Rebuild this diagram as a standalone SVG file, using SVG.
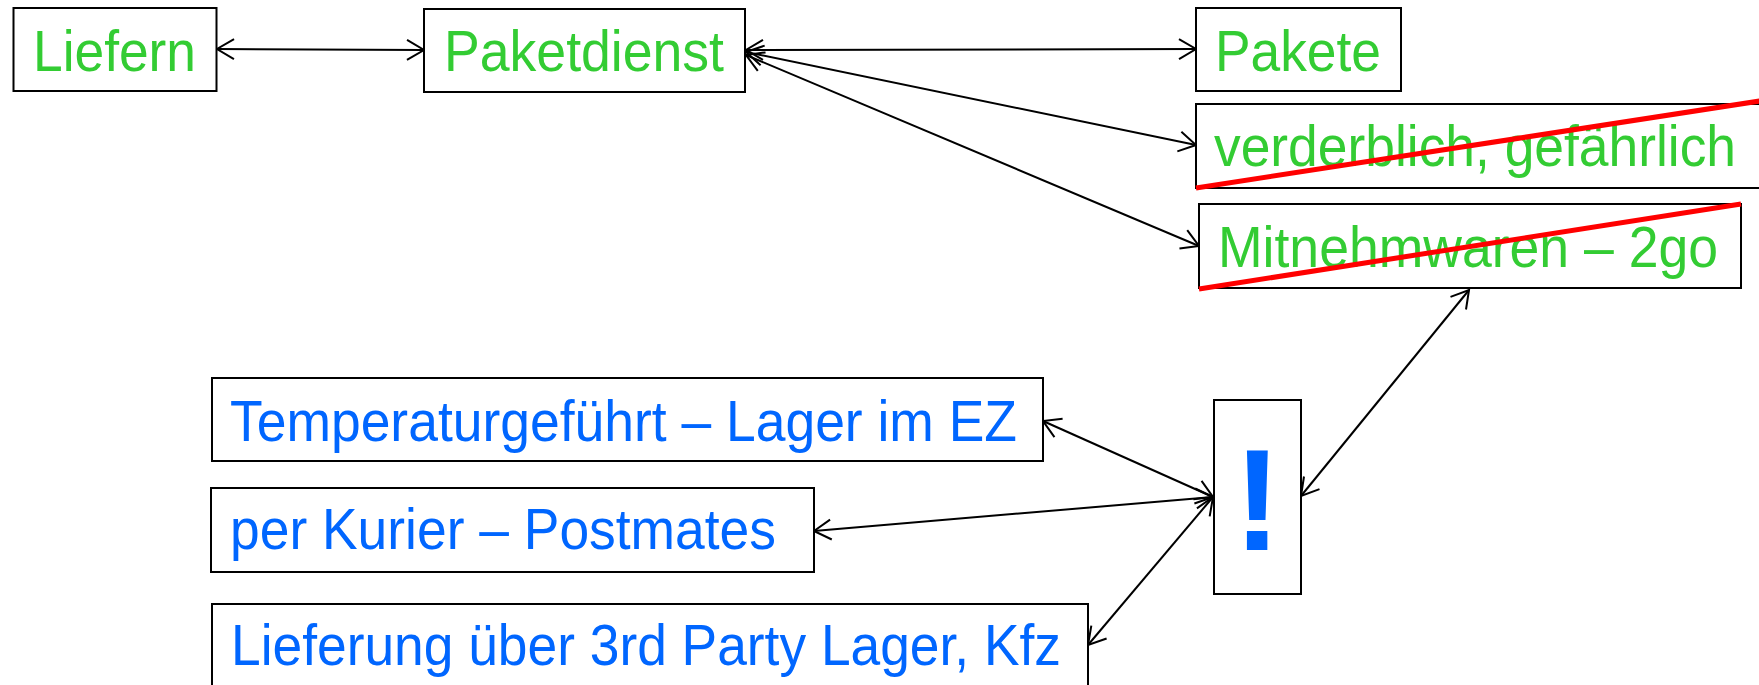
<svg xmlns="http://www.w3.org/2000/svg" width="1759" height="685" viewBox="0 0 1759 685">
<style>
.box{fill:#fff;stroke:#000;stroke-width:2}
.g{fill:#33cc33;font-family:"Liberation Sans",Arial,sans-serif;font-size:57px}
.b{fill:#0066ff;font-family:"Liberation Sans",Arial,sans-serif;font-size:57px}
.strike{stroke:#ff0000;stroke-width:5;fill:none}
.c{stroke:#000;stroke-width:2;fill:none;marker-start:url(#ah);marker-end:url(#ah)}
</style>
<defs>
<marker id="ah" markerUnits="userSpaceOnUse" markerWidth="1" markerHeight="1" refX="0" refY="0" orient="auto-start-reverse" overflow="visible">
<path d="M -17 -10 L 0 0 L -17 10" fill="none" stroke="#000" stroke-width="2"/>
</marker>
</defs>
<rect width="1759" height="685" fill="#fff"/>
<g id="connectors">
<line class="c" x1="217" y1="49" x2="424" y2="50"/>
<line class="c" x1="746" y1="50" x2="1196" y2="49"/>
<line class="c" x1="746" y1="52" x2="1196" y2="145"/>
<line class="c" x1="746" y1="55" x2="1199" y2="246"/>
<line class="c" x1="1469" y1="290" x2="1301" y2="496"/>
<line class="c" x1="1043" y1="421" x2="1213" y2="497"/>
<line class="c" x1="814" y1="531" x2="1213" y2="497"/>
<line class="c" x1="1088" y1="645" x2="1213" y2="497"/>
</g>
<g id="n-liefern">
<rect class="box" x="13.5" y="8" width="203" height="83"/>
<text class="g" x="33" y="71" textLength="163" lengthAdjust="spacingAndGlyphs">Liefern</text>
</g>
<g id="n-paketdienst">
<rect class="box" x="424" y="9" width="321" height="83"/>
<text class="g" x="444" y="71" textLength="280" lengthAdjust="spacingAndGlyphs">Paketdienst</text>
</g>
<g id="n-pakete">
<rect class="box" x="1196" y="8" width="205" height="83"/>
<text class="g" x="1215" y="71" textLength="166" lengthAdjust="spacingAndGlyphs">Pakete</text>
</g>
<g id="n-verderblich">
<rect class="box" x="1196" y="104" width="600" height="84"/>
<text class="g" x="1214" y="166" textLength="522" lengthAdjust="spacingAndGlyphs">verderblich, gefährlich</text>
<line class="strike" x1="1196" y1="188" x2="1760" y2="101"/>
</g>
<g id="n-mitnehm">
<rect class="box" x="1199" y="204" width="542" height="84"/>
<text class="g" x="1218" y="267" textLength="500" lengthAdjust="spacingAndGlyphs">Mitnehmwaren – 2go</text>
<line class="strike" x1="1199" y1="289" x2="1741" y2="204"/>
</g>
<g id="n-temperatur">
<rect class="box" x="212" y="378" width="831" height="83"/>
<text class="b" x="230" y="441" textLength="787" lengthAdjust="spacingAndGlyphs">Temperaturgeführt – Lager im EZ</text>
</g>
<g id="n-kurier">
<rect class="box" x="211" y="488" width="603" height="84"/>
<text class="b" x="230" y="549" textLength="546" lengthAdjust="spacingAndGlyphs">per Kurier – Postmates</text>
</g>
<g id="n-lieferung">
<rect class="box" x="212" y="604" width="876" height="90"/>
<text class="b" x="231" y="665" textLength="830" lengthAdjust="spacingAndGlyphs">Lieferung über 3rd Party Lager, Kfz</text>
</g>
<g id="n-ausruf">
<rect class="box" x="1214" y="400" width="87" height="194"/>
<text x="1257.5" y="550" text-anchor="middle" fill="#0066ff" font-family="Liberation Sans,Arial,sans-serif" font-weight="bold" font-size="145">!</text>
</g>
</svg>
